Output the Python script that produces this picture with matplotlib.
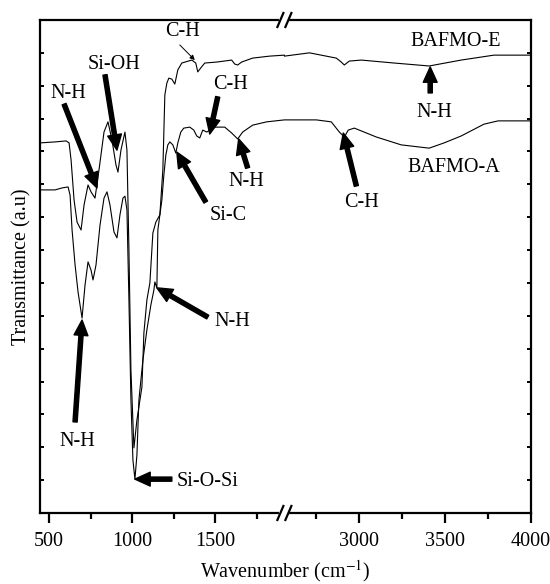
import numpy as np
import matplotlib
matplotlib.use('Agg')
import matplotlib.pyplot as plt

plt.rcParams['font.family'] = 'Liberation Serif'
plt.rcParams['mathtext.fontset'] = 'stix'

# FTIR spectra, wavenumber (cm-1) vs transmittance (a.u.)
wn_e = [446, 536, 602, 620, 632, 650, 668, 692, 710, 734, 752, 776, 800, 830, 854, 878,
        902, 914, 932, 956, 968, 980, 992, 1010, 1028, 1058, 1070, 1088, 1106, 1124, 1142,
        1166, 1184, 1196, 1208, 1220, 1238, 1256, 1274, 1298, 1358, 1382, 1394, 1412, 1436,
        1508, 1598, 1616, 1634, 1658, 1724, 1826, 1915,
        2564, 2710, 2866, 2895, 2913, 2942, 3012, 3203, 3407, 3593, 3784, 4000]
tr_e = [11.26, 11.29, 11.32, 11.26, 10.74, 9.52, 8.85, 8.61, 9.37, 9.98, 9.77, 9.58, 10.44, 11.59, 11.90, 11.35,
        10.59, 10.37, 11.04, 11.59, 11.04, 8.00, 4.35, 1.98, 2.83, 3.83, 5.48, 6.48, 7.00, 8.52, 8.85,
        9.07, 10.44, 12.72, 13.08, 13.23, 13.20, 13.05, 13.48, 13.69, 13.78, 13.69, 13.42, 13.54, 13.69,
        13.72, 13.78, 13.66, 13.63, 13.72, 13.84, 13.90, 13.93,
        13.90, 14.00, 13.84, 13.72, 13.63, 13.75, 13.78, 13.69, 13.60, 13.78, 13.93, 13.93]

wn_a = [446, 536, 578, 614, 626, 638, 656, 674, 698, 716, 734, 752, 764, 782, 806, 830,
        848, 866, 890, 908, 926, 944, 956, 968, 980, 992, 1004, 1016, 1028, 1040, 1064,
        1088, 1112, 1130, 1136, 1148, 1154, 1166, 1178, 1190, 1202, 1214, 1226, 1244, 1262,
        1274, 1292, 1310, 1346, 1370, 1388, 1406, 1424, 1448, 1496, 1556, 1598, 1634, 1664,
        1724, 1808, 1915,
        2564, 2750, 2837, 2884, 2907, 2913, 2936, 2971, 3099, 3244, 3407, 3494, 3593, 3726,
        3808, 4000]
tr_a = [9.83, 9.83, 9.89, 9.92, 9.67, 8.61, 7.55, 6.72, 5.93, 6.94, 7.64, 7.39, 7.09, 7.55, 8.76, 9.58,
        9.77, 9.37, 8.55, 8.37, 9.07, 9.58, 9.64, 9.22, 6.48, 3.44, 1.61, 1.03, 1.76, 3.44, 4.65,
        5.57, 6.33, 6.78, 7.03, 6.85, 8.61, 9.07, 9.52, 10.28, 10.89, 11.20, 11.29, 11.20, 10.95,
        11.26, 11.59, 11.71, 11.74, 11.65, 11.47, 11.41, 11.65, 11.59, 11.74, 11.74, 11.56, 11.38, 11.59,
        11.80, 11.90, 11.96,
        11.96, 11.96, 11.90, 11.59, 11.47, 11.44, 11.65, 11.71, 11.44, 11.20, 11.10, 11.26, 11.47, 11.83,
        11.93, 11.93]

# labels: (text, text pos, arrow tail, arrow tip)
thick_notes = [
    ('Si-OH', (890, 13.66), (836, 13.33), (908, 11.04)),
    ('N-H', (614, 12.75), (590, 12.44), (788, 9.89)),
    ('C-H', (1592, 13.05), (1514, 12.66), (1466, 11.53)),
    ('N-H', (1688, 10.10), (1694, 10.50), (1640, 11.38)),
    ('Si-C', (1574, 9.04), (1442, 9.46), (1268, 10.98)),
    ('N-H', (1604, 5.84), (1454, 5.96), (1148, 6.85)),
    ('N-H', (668, 2.16), (656, 2.77), (698, 5.87)),
    ('Si-O-Si', (1454, 0.97), (1238, 1.03), (1016, 1.03)),
    ('N-H', (3436, 12.20), (3413, 12.78), (3413, 13.57)),
    ('C-H', (3012, 9.46), (2983, 9.95), (2907, 11.56)),
]
series_names = [('BAFMO-E', (3564, 14.36)), ('BAFMO-A', (3552, 10.50))]

# broken x axis
gap_lo, gap_hi = 1915, 2564
stretch = 1.033
x_min, x_max = 445, 4000


def fwd(x):
    x = np.asarray(x, float)
    return np.where(x <= gap_lo, x,
                    np.where(x >= gap_hi, gap_lo + (x - gap_hi) * stretch, gap_lo))


def inv(u):
    u = np.asarray(u, float)
    return np.where(u <= gap_lo, u, gap_hi + (u - gap_lo) / stretch)


fig = plt.figure(figsize=(5.5, 5.84), dpi=100)
ax = fig.add_axes([0.0727, 0.1216, 0.8928, 0.8442])
ax.set_xscale('function', functions=(fwd, inv))

ax.plot(wn_e, tr_e, color='black', lw=0.8)
ax.plot(wn_a, tr_a, color='black', lw=0.8)

ax.set_xlim(x_min, x_max)
ax.set_ylim(0, 15)
ax.set_xticks([500, 1000, 1500, 3000, 3500, 4000])
ax.set_xticks([750, 1250, 1750, 2750, 3250, 3750], minor=True)
ax.set_xticklabels(['500', '1000', '1500', '3000', '3500', '4000'])
ax.set_yticks(np.arange(0, 16, 1))
ax.set_yticks([], minor=True)

ax.tick_params(axis='x', which='major', direction='out', length=7, width=1.6,
               labelsize=14.5, pad=7, top=False)
ax.tick_params(axis='x', which='minor', direction='out', length=4.5, width=1.6, top=False)
ax.tick_params(axis='y', which='major', direction='in', length=3, width=1.4,
               left=True, right=True, labelleft=False)
for s in ax.spines.values():
    s.set_linewidth(1.6)

ax.set_xlabel('Wavenumber (cm$^{-1}$)', fontsize=14.5, labelpad=5)
ax.set_ylabel('Transmittance (a.u)', fontsize=14.5, labelpad=6)

# break marks
xb = (gap_lo - x_min) / (float(fwd(x_max)) - x_min)
dx, dy = 1 / 491, 1 / 493
for y0 in (0, 1):
    ax.plot([xb - 3 * dx, xb + 3 * dx], [y0, y0], color='white', lw=3,
            transform=ax.transAxes, clip_on=False, zorder=5)
    for off in (-4, 4):
        ax.plot([xb + (off - 3) * dx, xb + (off + 3) * dx], [y0 - 7 * dy, y0 + 7 * dy],
                color='black', lw=1.6, transform=ax.transAxes, clip_on=False, zorder=6)

# annotations
for txt, pos, tail, tip in thick_notes:
    ax.text(pos[0], pos[1], txt, fontsize=14.5, ha='center', va='center')
    ax.annotate('', xy=tip, xytext=tail,
                arrowprops=dict(facecolor='black', edgecolor='black', width=3,
                                headwidth=10, headlength=11, shrink=0))

ax.text(1304, 14.66, 'C-H', fontsize=14.5, ha='center', va='center')
ax.annotate('', xy=(1388, 13.72), xytext=(1274, 14.30),
            arrowprops=dict(arrowstyle='-|>', color='black', lw=0.7, mutation_scale=7))

for name, pos in series_names:
    ax.text(pos[0], pos[1], name, fontsize=14.5, ha='center', va='center')

fig.savefig('out.png', dpi=100)
